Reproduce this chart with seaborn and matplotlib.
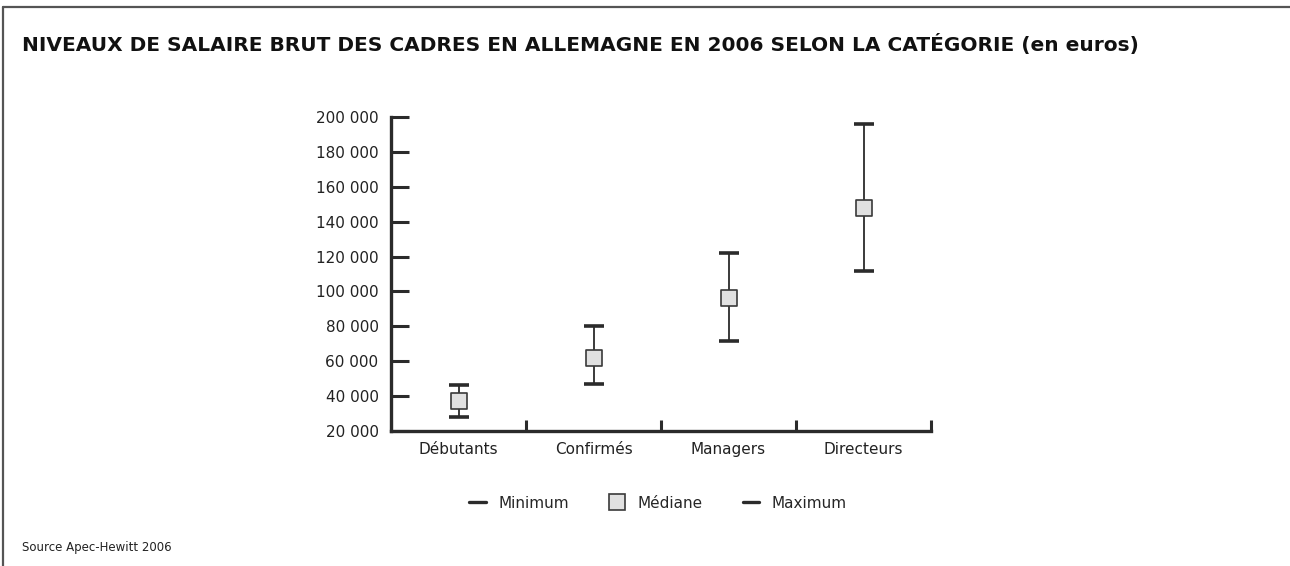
import pandas as pd
import matplotlib.pyplot as plt
import seaborn as sns
from matplotlib.lines import Line2D
from matplotlib.ticker import FuncFormatter, FixedLocator

# Données
categories = ['Débutants', 'Confirmés', 'Managers', 'Directeurs']
minimum = [28000, 47000, 71500, 111500]
mediane = [37000, 62000, 96000, 148000]
maximum = [46500, 80000, 122000, 196000]

df = pd.DataFrame({'categorie': categories, 'minimum': minimum,
                   'mediane': mediane, 'maximum': maximum})

sns.set_style("white")
plt.rcParams['font.family'] = ['DejaVu Sans']

fig = plt.figure(figsize=(12.9, 5.66), dpi=100)
ax = fig.add_axes([391 / 1290, 1 - 431 / 566, 540 / 1290, 314 / 566])

sombre = '#2b2b2b'

# Traits verticaux min -> max
ax.vlines(range(len(categories)), df['minimum'], df['maximum'], color=sombre, lw=1.3, zorder=2)

# Bornes min / max
sns.scatterplot(data=df, x='categorie', y='minimum', marker='_', s=210, linewidth=2.6,
                color=sombre, ax=ax, zorder=3)
sns.scatterplot(data=df, x='categorie', y='maximum', marker='_', s=210, linewidth=2.6,
                color=sombre, ax=ax, zorder=3)

# Médiane
sns.scatterplot(data=df, x='categorie', y='mediane', marker='s', s=140, linewidth=1.2,
                color='#e1e1e1', edgecolor='#3a3a3a', ax=ax, zorder=4)

# Axes
ax.set_xlim(-0.5, 3.5)
ax.set_ylim(20000, 200000)
ax.set_yticks(range(20000, 200001, 20000))
ax.yaxis.set_major_formatter(FuncFormatter(lambda v, p: f'{int(v):,}'.replace(',', ' ')))
ax.set_xlabel('')
ax.set_ylabel('')

ax.xaxis.set_minor_locator(FixedLocator([-0.5, 0.5, 1.5, 2.5, 3.5]))
ax.tick_params(axis='x', which='major', length=0, pad=8, labelsize=11, labelcolor='#222')
ax.tick_params(axis='x', which='minor', direction='in', length=8, width=2.2, color=sombre,
               bottom=True)
ax.tick_params(axis='y', which='major', direction='in', length=13, width=2.2, color=sombre,
               pad=9, labelsize=11, labelcolor='#222', left=True)

for s in ['top', 'right']:
    ax.spines[s].set_visible(False)
for s in ['left', 'bottom']:
    ax.spines[s].set_color(sombre)
    ax.spines[s].set_linewidth(2.4)

# Légende
handles = [
    Line2D([], [], color=sombre, lw=2.4),
    Line2D([], [], marker='s', linestyle='none', markersize=11,
           markerfacecolor='#e1e1e1', markeredgecolor='#3a3a3a', markeredgewidth=1.2),
    Line2D([], [], color=sombre, lw=2.4),
]
fig.legend(handles, ['Minimum', 'Médiane', 'Maximum'], loc='center',
           bbox_to_anchor=(658 / 1290, 1 - 503 / 566), ncol=3, frameon=False,
           fontsize=11, handlelength=1.1, handletextpad=0.8, columnspacing=2.6)

# Titre et source
fig.text(22 / 1290, 1 - 45 / 566,
         'NIVEAUX DE SALAIRE BRUT DES CADRES EN ALLEMAGNE EN 2006 SELON LA CATÉGORIE (en euros)',
         fontsize=14.5, fontweight='bold', va='center', ha='left', color='#111')
fig.text(22 / 1290, 1 - 548 / 566, 'Source Apec-Hewitt 2006', fontsize=8.5,
         va='center', ha='left', color='#222')

# Cadre gris (haut et gauche)
fig.add_artist(Line2D([3 / 1290, 1], [1 - 6.5 / 566, 1 - 6.5 / 566],
                      transform=fig.transFigure, color='#555', lw=1.6))
fig.add_artist(Line2D([3 / 1290, 3 / 1290], [0, 1 - 6.5 / 566],
                      transform=fig.transFigure, color='#555', lw=1.6))

fig.savefig('out.png', dpi=100)
plt.close()
